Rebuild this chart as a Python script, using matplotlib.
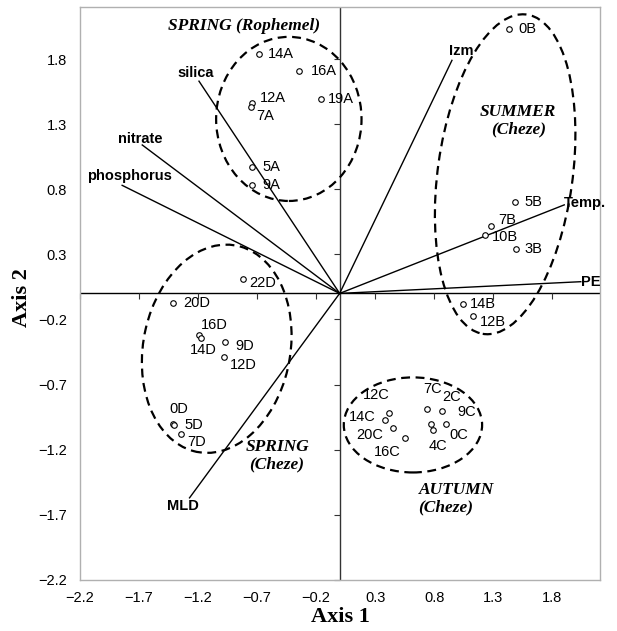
import matplotlib
matplotlib.use("Agg")
import matplotlib.pyplot as plt
from matplotlib.patches import Ellipse
from matplotlib.markers import TICKDOWN, TICKLEFT

# site scores on the two ordination axes
site_labels = ["14A", "16A", "12A", "7A", "19A", "5A", "9A",
               "0B", "5B", "7B", "10B", "3B", "14B", "12B",
               "7C", "2C", "9C", "0C", "4C", "12C", "14C", "20C", "16C",
               "22D", "20D", "16D", "14D", "9D", "12D", "0D", "5D", "7D"]
site_x = [-0.68, -0.34, -0.74, -0.75, -0.16, -0.74, -0.74,
          1.43, 1.48, 1.28, 1.23, 1.49, 1.04, 1.13,
          0.74, 0.865, 0.90, 0.77, 0.79, 0.42, 0.38, 0.45, 0.55,
          -0.82, -1.41, -1.19, -1.17, -0.97, -0.98, -1.41, -1.40, -1.34]
site_y = [1.84, 1.71, 1.46, 1.43, 1.49, 0.97, 0.83,
          2.03, 0.70, 0.52, 0.45, 0.34, -0.08, -0.17,
          -0.885, -0.90, -1.00, -1.00, -1.05, -0.92, -0.97, -1.03, -1.11,
          0.11, -0.07, -0.32, -0.34, -0.37, -0.49, -1.00, -1.01, -1.08]

# environmental variables (arrow tips)
env_labels = ["silica", "nitrate", "phosphorus", "MLD", "Izm", "Temp.", "PE"]
env_x = [-1.19, -1.67, -1.84, -1.27, 0.95, 1.90, 2.04]
env_y = [1.63, 1.14, 0.83, -1.57, 1.79, 0.68, 0.09]

ticks = [-2.2, -1.7, -1.2, -0.7, -0.2, 0.3, 0.8, 1.3, 1.8]

# label placement, pixel offsets (right, up)
site_off = {
    "14A": (9, 0), "16A": (11, 0), "12A": (8, 5), "7A": (5, -9), "19A": (7, 0),
    "5A": (10, 0), "9A": (10, 0),
    "0B": (10, 0), "5B": (10, 0), "7B": (7, 6), "10B": (7, -2), "3B": (9, 0),
    "14B": (7, 0), "12B": (7, -6),
    "7C": (-4, 20), "2C": (0, 14), "9C": (11, 12), "0C": (19, -11), "4C": (-4, -16),
    "12C": (-26, 18), "14C": (-36, 3), "20C": (-37, -7), "16C": (-31, -14),
    "22D": (7, -4), "20D": (10, 0), "16D": (2, 10), "14D": (-11, -12),
    "9D": (10, -4), "12D": (6, -8), "0D": (-4, 15), "5D": (10, 0), "7D": (6, -8),
}
env_off = {"silica": (-3, 8), "nitrate": (-2, 6), "phosphorus": (7, 9),
           "MLD": (-7, -8), "Izm": (9, 9), "Temp.": (21, 2), "PE": (10, 0)}

fig = plt.figure(figsize=(6.17, 6.31), dpi=100)
ax = fig.add_axes([0.129, 0.081, 0.843, 0.908])
ax.set_xlim(-2.2, 2.2)
ax.set_ylim(-2.2, 2.2)

for s in ax.spines.values():
    s.set_color("#b0b0b0")
    s.set_linewidth(1.0)

ax.set_xticks(ticks)
ax.set_yticks(ticks)
ax.set_xticklabels([f"{t:.1f}".replace("-", "\u2212") for t in ticks])
ax.set_yticklabels([f"{t:.1f}".replace("-", "\u2212") for t in ticks])
ax.tick_params(length=0, labelsize=10.5)
ax.tick_params(axis="x", pad=8)
ax.tick_params(axis="y", pad=9)
for lab in ax.get_xticklabels() + ax.get_yticklabels():
    lab.set_family("Liberation Sans")

# central axes with their ticks
ax.axhline(0, color="black", lw=1.0, zorder=2)
ax.axvline(0, color="#333333", lw=1.0, zorder=2)
ax.plot(ticks, [0] * len(ticks), ls="none", marker=TICKDOWN, ms=4, mew=0.8, color="#333333", clip_on=False)
ax.plot([0] * len(ticks), ticks, ls="none", marker=TICKLEFT, ms=4, mew=0.8, color="#333333", clip_on=False)

# environmental arrows
for lab, x, y in zip(env_labels, env_x, env_y):
    ax.plot([0, x], [0, y], color="black", lw=1.0, zorder=3)
    ax.annotate(lab, (x, y), xytext=env_off[lab], textcoords="offset pixels",
                ha="center", va="center", fontsize=10.5, fontweight="bold",
                family="Liberation Sans")

# sites
ax.plot(site_x, site_y, ls="none", marker="o", ms=4, mfc="white", mec="black", mew=0.8, zorder=4)
for lab, x, y in zip(site_labels, site_x, site_y):
    ax.annotate(lab, (x, y), xytext=site_off[lab], textcoords="offset pixels",
                ha="left", va="center", fontsize=10.5, family="Liberation Sans")

# season groups
dash = (0, (4, 2.5))
groups = [((-0.43, 1.34), 1.23, 1.26, 0),
          ((1.40, 0.915), 1.14, 2.48, -8.8),
          ((0.62, -1.01), 1.17, 0.73, 0),
          ((-1.04, -0.425), 1.24, 1.62, -14.3)]
for c, w, h, a in groups:
    ax.add_patch(Ellipse(c, w, h, angle=a, fill=False, ec="black", lw=1.6, ls=dash, zorder=3))

serif = dict(family="Liberation Serif", fontweight="bold", fontstyle="italic", fontsize=12.5)
ax.text(-0.81, 2.05, "SPRING (Rophemel)", ha="center", va="center", **serif)
ax.text(1.51, 1.325, "SUMMER\n(Cheze)", ha="center", va="center", linespacing=1.15, **serif)
ax.text(-0.53, -1.245, "SPRING\n(Cheze)", ha="center", va="center", linespacing=1.15, **serif)
ax.text(0.667, -1.577, "AUTUMN\n(Cheze)", ha="left", va="center", multialignment="left",
        linespacing=1.15, **serif)

fig.text(340 / 617, 1 - 617 / 631, "Axis 1", ha="center", va="center",
         family="Liberation Serif", fontweight="bold", fontsize=16)
fig.text(22 / 617, 1 - 298 / 631, "Axis 2", ha="center", va="center", rotation=90,
         family="Liberation Serif", fontweight="bold", fontsize=16)

fig.savefig("out.png", dpi=100)
